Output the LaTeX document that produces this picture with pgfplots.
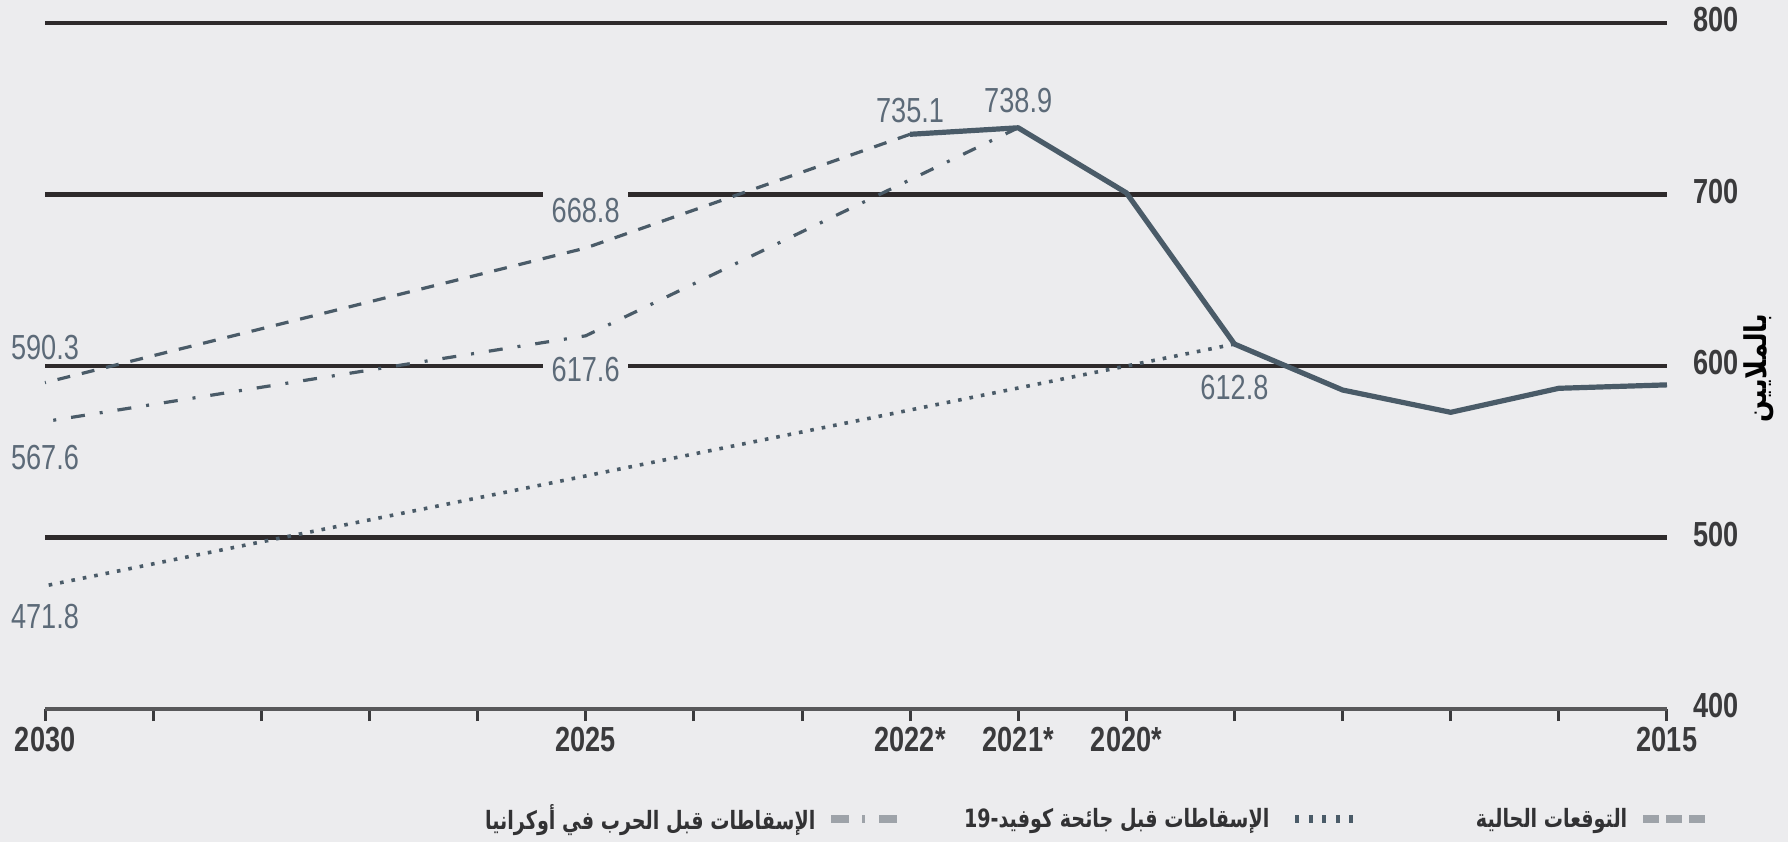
\documentclass[border=0pt]{standalone}
\usepackage{fontspec}
\setmainfont{Liberation Sans}[FakeStretch=0.78]
\newfontfamily\arabicfont[Script=Arabic,FakeStretch=0.85]{DejaVu Sans}
\newfontfamily\arabiclegend[Script=Arabic,FakeStretch=0.76]{DejaVu Sans}
\usepackage{pgfplots}
\pgfplotsset{compat=1.18}
\TeXXeTstate=1
\definecolor{bg}{RGB}{236,236,238}
\definecolor{gridc}{RGB}{46,42,43}
\definecolor{lnc}{RGB}{74,91,104}
\definecolor{labc}{RGB}{92,106,120}
\definecolor{tickc}{RGB}{58,58,60}
\definecolor{axc}{RGB}{88,88,90}
\definecolor{legc}{RGB}{50,50,52}
\definecolor{leggray}{RGB}{158,163,169}
\tikzset{
  solidln/.style={draw=lnc, line width=2.6pt, line join=round},
  dashln/.style={draw=lnc, line width=1.6pt, dash pattern=on 6.5pt off 6pt},
  dashdotln/.style={draw=lnc, line width=1.6pt, dash pattern=on 7pt off 7.5pt on 1.5pt off 7.5pt},
  dotln/.style={draw=lnc, line width=1.8pt, dash pattern=on 1.8pt off 4pt},
  legdash/.style={draw=leggray, line width=4pt, dash pattern=on 8pt off 3.5pt},
  legdashdot/.style={draw=leggray, line width=4pt, dash pattern=on 9pt off 6.5pt on 1.5pt off 7pt},
  legdot/.style={draw=lnc, line width=4pt, dash pattern=on 2pt off 4.75pt},
  lab/.style={font=\fontsize{17.4}{20}\selectfont, text=labc, inner sep=0pt},
  labbox/.style={lab, fill=bg, inner xsep=4.25pt, inner ysep=4pt},
}
\begin{document}
\begin{tikzpicture}[x=1pt,y=1pt]
\path[fill=bg, use as bounding box] (-22.5,-66.5) rectangle (871.5,354.5);
\begin{axis}[
  at={(0,0)}, anchor=south west,
  scale only axis, width=811pt, height=343pt,
  xmin=2015, xmax=2030, x dir=reverse,
  ymin=400, ymax=800,
  clip=false,
  axis x line*=bottom, axis y line*=right,
  x axis line style={-, draw=axc, line width=2.4pt},
  y axis line style={draw=none},
  xtick={2015,...,2030},
  xticklabels={2015,{},{},{},{},2020*,2021*,2022*,{},{},2025,{},{},{},{},2030},
  tick align=outside,
  major tick length=6pt,
  xtick style={draw=tickc, line width=1.5pt},
  ytick={500,600,700,800},
  yticklabels={500,600,700,800},
  extra y ticks={400},
  extra y tick labels={400},
  extra y tick style={grid=none},
  ytick style={draw=none},
  ymajorgrids,
  grid style={draw=gridc, line width=2.2pt},
  xticklabel style={font=\fontsize{17.4}{20}\selectfont\bfseries, text=tickc, inner sep=0pt, anchor=north, yshift=-3pt},
  yticklabel style={font=\fontsize{17.4}{20}\selectfont\bfseries, text=tickc, inner sep=0pt, anchor=west, xshift=7pt, yshift=1.5pt},
  every axis y label/.style={at={(axis description cs:1.0567,0.497)}, rotate=90, anchor=center},
  ylabel={\fontsize{15}{18}\selectfont\arabicfont\bfseries\beginR بالملايين\endR},
  legend style={at={(axis description cs:0.2355,-0.1603)}, anchor=west, draw=none, fill=none,
    legend columns=3, column sep=0pt, inner sep=0pt,
    nodes={inner sep=0pt, text=legc, font=\fontsize{12.6}{15}\selectfont\arabiclegend\bfseries}},
  legend plot pos=right,
  legend image code/.code={\draw[#1] (0pt,0pt) -- (33pt,0pt);},
]
\addlegendimage{legdashdot}
\addlegendentry{\makebox[200pt][r]{\beginR الإسقاطات قبل الحرب في أوكرانيا\endR\hspace{6pt}}}
\addlegendimage{legdot}
\addlegendentry{\makebox[195pt][r]{\beginR الإسقاطات قبل جائحة كوفيد-\beginL 19\endL\endR\hspace{11pt}}}
\addlegendimage{legdash}
\addlegendentry{\makebox[137pt][r]{\beginR التوقعات الحالية\endR\hspace{6pt}}}

% pre-COVID projection (dotted)
\addplot[dotln, forget plot] coordinates {(2019,612.8) (2030,471.8)};
% pre-war projection (dash-dot)
\addplot[dashdotln, forget plot] coordinates {(2021,738.9) (2025,617.6) (2030,567.6)};
% current projection (dashed)
\addplot[dashln, forget plot] coordinates {(2022,735.1) (2025,668.8) (2030,590.3)};
% actual / current (solid)
\addplot[solidln, forget plot] coordinates {(2015,589) (2016,587) (2017,573) (2018,586) (2019,612.8) (2020,701) (2021,738.9) (2022,735.1)};

\node[lab] at (axis cs:2022,749.2) {735.1};
\node[lab] at (axis cs:2021,755.0) {738.9};
\node[labbox] at (axis cs:2025,690.8) {668.8};
\node[labbox] at (axis cs:2025,597.7) {617.6};
\node[lab] at (axis cs:2030,610.8) {590.3};
\node[lab] at (axis cs:2030,546.6) {567.6};
\node[lab] at (axis cs:2030,453.7) {471.8};
\node[lab] at (axis cs:2019,587.4) {612.8};
\end{axis}
\end{tikzpicture}
\end{document}
